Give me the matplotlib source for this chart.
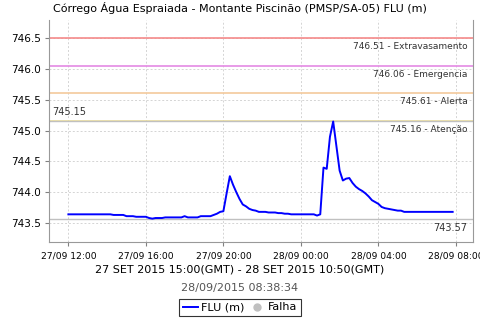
import pandas as pd
import matplotlib
matplotlib.use("Agg")
import matplotlib.pyplot as plt
import matplotlib.dates as mdates
from matplotlib.lines import Line2D

# series: FLU (m), one reading every 10 minutes, 27/09 12:00 -> 28/09 07:50 (local)
start_time = "2015-09-27 12:00"
step = "10min"
flu = ([743.64] * 14 + [743.63] * 4 + [743.61] * 3 + [743.60] * 4 +
       [743.58, 743.57] + [743.58] * 3 + [743.59] * 6 + [743.61] +
       [743.59] * 4 + [743.61] * 4 +
       [743.63, 743.65, 743.68, 743.69, 743.98, 744.26, 744.12, 744.00,
        743.89, 743.80, 743.77, 743.73, 743.71, 743.70] +
       [743.68] * 3 + [743.67] * 3 + [743.66] * 2 + [743.65] * 2 +
       [743.64] * 8 + [743.62, 743.64] +
       [744.40, 744.38, 744.90, 745.15, 744.75, 744.35, 744.19, 744.22,
        744.23, 744.15, 744.09, 744.05, 744.02, 743.98, 743.93, 743.87,
        743.84, 743.81, 743.76, 743.74, 743.73, 743.72, 743.71, 743.70,
        743.70] +
       [743.68] * 16)

# alarm levels
levels = [746.51, 746.06, 745.61, 745.16]
level_names = ["Extravasamento", "Emergencia", "Alerta", "Atenção"]
level_colors = ["#f58a8a", "#e48ae4", "#f3c99c", "#efe09a"]

title = "Córrego Água Espraiada - Montante Piscinão (PMSP/SA-05) FLU (m)"
period = "27 SET 2015 15:00(GMT) - 28 SET 2015 10:50(GMT)"
stamp = "28/09/2015 08:38:34"

times = pd.date_range(start_time, periods=len(flu), freq=step)

fig = plt.figure(figsize=(4.8, 3.2), dpi=100)
ax = fig.add_axes([49 / 480, 1 - 242 / 320, 424 / 480, 222 / 320])

ax.set_xlim(pd.Timestamp("2015-09-27 11:00"), pd.Timestamp("2015-09-28 08:53"))
ax.set_ylim(743.19, 746.80)

ax.xaxis.set_major_locator(mdates.HourLocator(byhour=[0, 4, 8, 12, 16, 20]))
ax.xaxis.set_major_formatter(mdates.DateFormatter("%d/%m %H:%M"))
ax.set_yticks([743.5, 744.0, 744.5, 745.0, 745.5, 746.0, 746.5])
ax.yaxis.set_major_formatter(matplotlib.ticker.FormatStrFormatter("%.1f"))

ax.grid(True, color="#d4d4d4", linestyle=(0, (2, 2)), linewidth=0.7)
ax.set_axisbelow(True)
ax.tick_params(axis="x", labelsize=6.6, colors="#808080", labelcolor="black",
               length=3, pad=4)
ax.tick_params(axis="y", labelsize=7.5, colors="#808080", labelcolor="black",
               length=3, pad=3)
for side in ["left", "bottom", "right"]:
    ax.spines[side].set_color("#999999")
ax.spines["top"].set_visible(False)

# alarm lines with labels under them, right aligned
for lv, name, col in zip(levels, level_names, level_colors):
    ax.axhline(lv, color=col, linewidth=1.2, zorder=2)
    ax.annotate(f"{lv:.2f} - {name}", xy=(1, lv), xycoords=("axes fraction", "data"),
                xytext=(-4, -3), textcoords="offset points", ha="right", va="top",
                fontsize=6.5, color="#333333")

# max / min markers
vmax = max(flu)
vmin = min(flu)
ax.axhline(vmax, color="#c0c0c0", linewidth=1.0, zorder=2)
ax.axhline(vmin, color="#c0c0c0", linewidth=1.0, zorder=2)
ax.annotate(f"{vmax:.2f}", xy=(0, vmax), xycoords=("axes fraction", "data"),
            xytext=(2, 3), textcoords="offset points", ha="left", va="bottom",
            fontsize=7, color="#333333")
ax.annotate(f"{vmin:.2f}", xy=(1, vmin), xycoords=("axes fraction", "data"),
            xytext=(-4, -3), textcoords="offset points", ha="right", va="top",
            fontsize=7, color="#333333")

ax.plot(times, flu, color="#0000ff", linewidth=1.4, zorder=3)

fig.text(0.5, 1 - 8 / 320, title, ha="center", va="center", fontsize=8)
fig.text(0.5, 1 - 269 / 320, period, ha="center", va="center", fontsize=8)
fig.text(0.5, 1 - 288 / 320, stamp, ha="center", va="center", fontsize=8,
         color="#555555")

handles = [Line2D([], [], color="#0000ff", linewidth=1.4),
           Line2D([], [], color="#c0c0c0", marker="o", linestyle="None",
                  markersize=5)]
leg = fig.legend(handles, ["FLU (m)", "Falha"], loc="center",
                 bbox_to_anchor=(0.5, 1 - 307.5 / 320), ncol=2, fontsize=8,
                 frameon=True, fancybox=False, handlelength=1.4,
                 handletextpad=0.3, columnspacing=0.4, borderpad=0.3,
                 borderaxespad=0)
leg.get_frame().set_edgecolor("black")
leg.get_frame().set_linewidth(0.8)

fig.savefig("out.png", dpi=100)
